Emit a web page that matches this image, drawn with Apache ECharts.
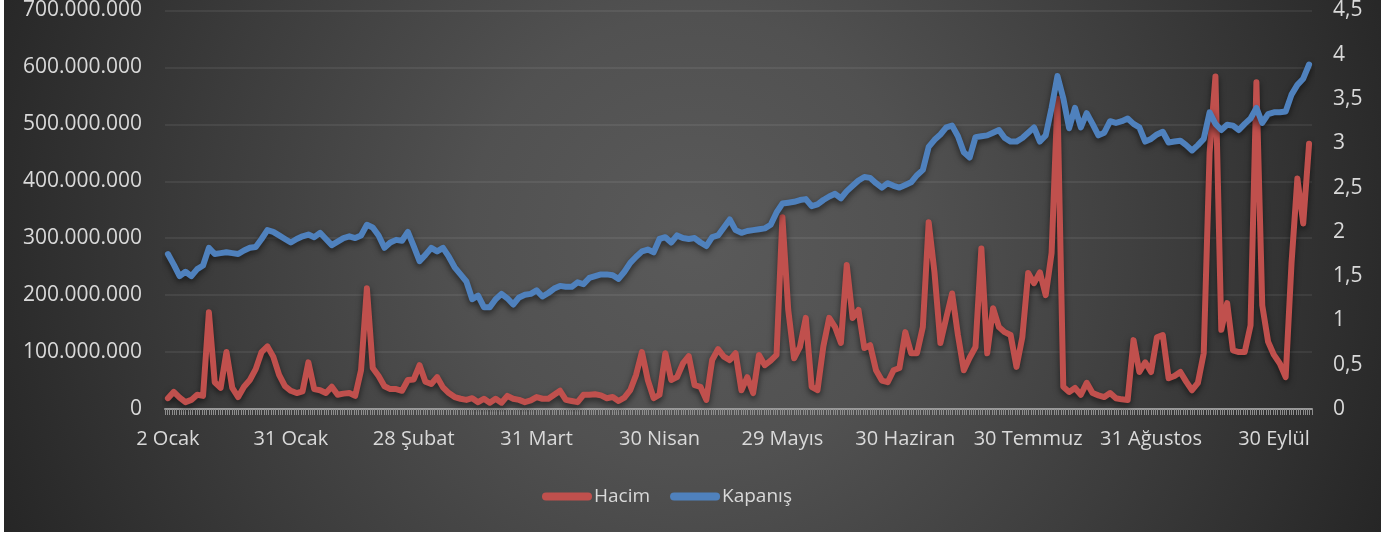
<!DOCTYPE html>
<html>
<head>
<meta charset="utf-8">
<script src="https://cdn.jsdelivr.net/npm/echarts@6/dist/echarts.min.js"></script>
<style>
  html, body { margin: 0; padding: 0; background: #fff; }
  #chart-line {
    position: absolute; left: 4px; top: 0;
    width: 1377px; height: 532px;
    background: radial-gradient(circle farthest-corner at 50% 45%, #5a5a5a 0%, #515151 30%, #3c3c3c 65%, #262626 100%);
  }
</style>
</head>
<body>
<div id="chart-line"></div>
<script>
// x ekseni etiketleri (her 21 işlem gününde bir)
const tickLabels = ['2 Ocak', '31 Ocak', '28 Şubat', '31 Mart', '30 Nisan', '29 Mayıs', '30 Haziran', '30 Temmuz', '31 Ağustos', '30 Eylül'];
const labelStep = 21;

// Hacim, milyon adet
const hacimMilyon = [
  19, 30, 20, 12, 16, 25, 23, 170, 47, 37,
  100, 37, 21, 39, 51, 70, 100, 110, 92, 60,
  40, 32, 28, 31, 82, 35, 33, 28, 39, 25,
  27, 28, 23, 68, 212, 72, 58, 40, 35, 35,
  32, 51, 52, 77, 48, 44, 56, 38, 28, 21,
  18, 16, 19, 12, 18, 11, 18, 11, 23, 18,
  16, 12, 15, 21, 18, 18, 25, 32, 16, 14,
  12, 25, 25, 26, 24, 19, 21, 14, 20, 33,
  60, 100, 51, 19, 25, 98, 51, 56, 80, 93,
  42, 39, 16, 86, 105, 92, 86, 98, 33, 56,
  28, 95, 77, 85, 95, 337, 174, 89, 109, 160,
  39, 33, 110, 160, 144, 116, 253, 160, 174, 107,
  112, 68, 50, 47, 68, 72, 135, 98, 98, 144,
  328, 239, 116, 160, 203, 130, 68, 90, 109, 282,
  98, 177, 144, 135, 130, 74, 126, 239, 221, 240,
  200, 274, 545, 39, 30, 37, 25, 46, 28, 24,
  21, 28, 19, 17, 16, 121, 65, 82, 65, 126,
  130, 54, 58, 65, 48, 33, 46, 98, 450, 584,
  139, 186, 103, 100, 100, 147, 574, 182, 118, 95,
  80, 56, 256, 405, 326, 466
];

// Kapanış fiyatı
const kapanis = [
  1.75, 1.63, 1.50, 1.55, 1.50, 1.58, 1.62, 1.82, 1.75, 1.76,
  1.77, 1.76, 1.75, 1.79, 1.82, 1.83, 1.92, 2.02, 2.00, 1.96,
  1.92, 1.88, 1.92, 1.95, 1.97, 1.94, 1.99, 1.92, 1.85, 1.89,
  1.93, 1.95, 1.93, 1.96, 2.08, 2.05, 1.96, 1.82, 1.88, 1.91,
  1.90, 2.00, 1.84, 1.67, 1.74, 1.82, 1.78, 1.82, 1.72, 1.60,
  1.52, 1.44, 1.24, 1.28, 1.15, 1.15, 1.24, 1.30, 1.25, 1.18,
  1.26, 1.29, 1.30, 1.34, 1.27, 1.31, 1.36, 1.39, 1.38, 1.38,
  1.43, 1.41, 1.48, 1.50, 1.52, 1.52, 1.51, 1.47, 1.55, 1.65,
  1.72, 1.78, 1.80, 1.77, 1.92, 1.94, 1.88, 1.96, 1.93, 1.92,
  1.93, 1.88, 1.84, 1.94, 1.96, 2.05, 2.14, 2.02, 1.99, 2.01,
  2.02, 2.03, 2.04, 2.08, 2.22, 2.32, 2.33, 2.34, 2.36, 2.37,
  2.29, 2.31, 2.36, 2.40, 2.43, 2.38, 2.46, 2.52, 2.58, 2.62,
  2.61, 2.55, 2.50, 2.55, 2.52, 2.50, 2.53, 2.56, 2.64, 2.70,
  2.96, 3.04, 3.10, 3.18, 3.20, 3.08, 2.90, 2.84, 3.07, 3.08,
  3.09, 3.12, 3.15, 3.06, 3.02, 3.02, 3.06, 3.12, 3.18, 3.02,
  3.09, 3.40, 3.76, 3.51, 3.17, 3.40, 3.18, 3.34, 3.22, 3.09,
  3.12, 3.25, 3.23, 3.25, 3.28, 3.22, 3.18, 3.02, 3.05, 3.10,
  3.13, 3.01, 3.02, 3.03, 2.98, 2.92, 2.98, 3.05, 3.35, 3.22,
  3.15, 3.21, 3.20, 3.15, 3.22, 3.28, 3.40, 3.23, 3.33, 3.35,
  3.35, 3.36, 3.55, 3.66, 3.73, 3.89
];

const categories = kapanis.map((_, i) => (i % labelStep === 0 ? tickLabels[i / labelStep] : ''));

function dotted(n) {
  return String(n).replace(/\B(?=(\d{3})+(?!\d))/g, '.');
}

function initChart() {
  const chartDom = document.getElementById('chart-line');
  const myChart = echarts.init(chartDom);
  const font = '"Open Sans", "Noto Sans", sans-serif';
  const lineShadow = {
    shadowColor: 'rgba(0, 0, 0, 0.55)',
    shadowBlur: 6,
    shadowOffsetY: 3,
  };
  // kapsül şeklinde lejant simgesi
  const capsule = 'path://M4,0 H46 A4,4 0 0 1 46,8 H4 A4,4 0 0 1 4,0 Z';

  const option = {
    backgroundColor: 'transparent',
    animation: false,
    textStyle: { fontFamily: font },
    legend: {
      left: 533,
      top: 482,
      itemWidth: 50,
      itemHeight: 8,
      itemGap: 20,
      itemStyle: { borderWidth: 0, shadowBlur: 0 },
      textStyle: {
        color: '#d9d9d9',
        fontSize: 19,
        fontFamily: font,
        padding: [0, 0, 0, -3],
      },
      data: [
        { name: 'Hacim', icon: capsule },
        { name: 'Kapanış', icon: capsule },
      ],
    },
    grid: {
      left: 161,
      right: 69,
      top: 10,
      bottom: 123,
    },
    xAxis: [
      {
        type: 'category',
        data: categories,
        boundaryGap: true,
        axisLine: {
          lineStyle: { color: '#9a9a9a', width: 2 },
        },
        axisTick: { show: false },
        axisLabel: {
          interval: labelStep - 1,
          margin: 20,
          color: '#d9d9d9',
          fontSize: 20,
          fontFamily: font,
        },
        splitLine: { show: false },
      },
      {
        // sık tik çizgileri (yalnızca görünüm için)
        type: 'value',
        position: 'bottom',
        min: 0,
        max: 498,
        interval: 1,
        axisLine: { show: false },
        axisTick: {
          show: true,
          length: 6,
          lineStyle: { color: '#8e8e8e', width: 1 },
        },
        axisLabel: { show: false },
        splitLine: { show: false },
      },
    ],
    yAxis: [
      {
        type: 'value',
        min: 0,
        max: 700,
        interval: 100,
        axisLine: { show: false },
        axisTick: { show: false },
        axisLabel: {
          margin: 23,
          color: '#d9d9d9',
          fontSize: 21,
          fontFamily: font,
          formatter: (v) => (v === 0 ? '0' : dotted(v * 1000000)),
        },
        splitLine: {
          lineStyle: { color: 'rgba(255, 255, 255, 0.09)', width: 1.5 },
        },
      },
      {
        type: 'value',
        min: 0,
        max: 4.5,
        interval: 0.5,
        axisLine: { show: false },
        axisTick: { show: false },
        axisLabel: {
          margin: 21,
          color: '#d9d9d9',
          fontSize: 21,
          fontFamily: font,
          formatter: (v) => String(v).replace('.', ','),
        },
        splitLine: { show: false },
      },
    ],
    series: [
      {
        name: 'Hacim',
        type: 'line',
        xAxisIndex: 0,
        yAxisIndex: 0,
        showSymbol: false,
        symbol: 'none',
        color: '#C0504D',
        lineStyle: Object.assign({ width: 6, color: '#C0504D', join: 'round', cap: 'round' }, lineShadow),
        data: hacimMilyon,
      },
      {
        name: 'Kapanış',
        type: 'line',
        xAxisIndex: 0,
        yAxisIndex: 1,
        showSymbol: false,
        symbol: 'none',
        color: '#4F81BD',
        lineStyle: Object.assign({ width: 6, color: '#4F81BD', join: 'round', cap: 'round' }, lineShadow),
        data: kapanis,
      },
    ],
  };

  option && myChart.setOption(option);
}

initChart();
</script>
</body>
</html>
